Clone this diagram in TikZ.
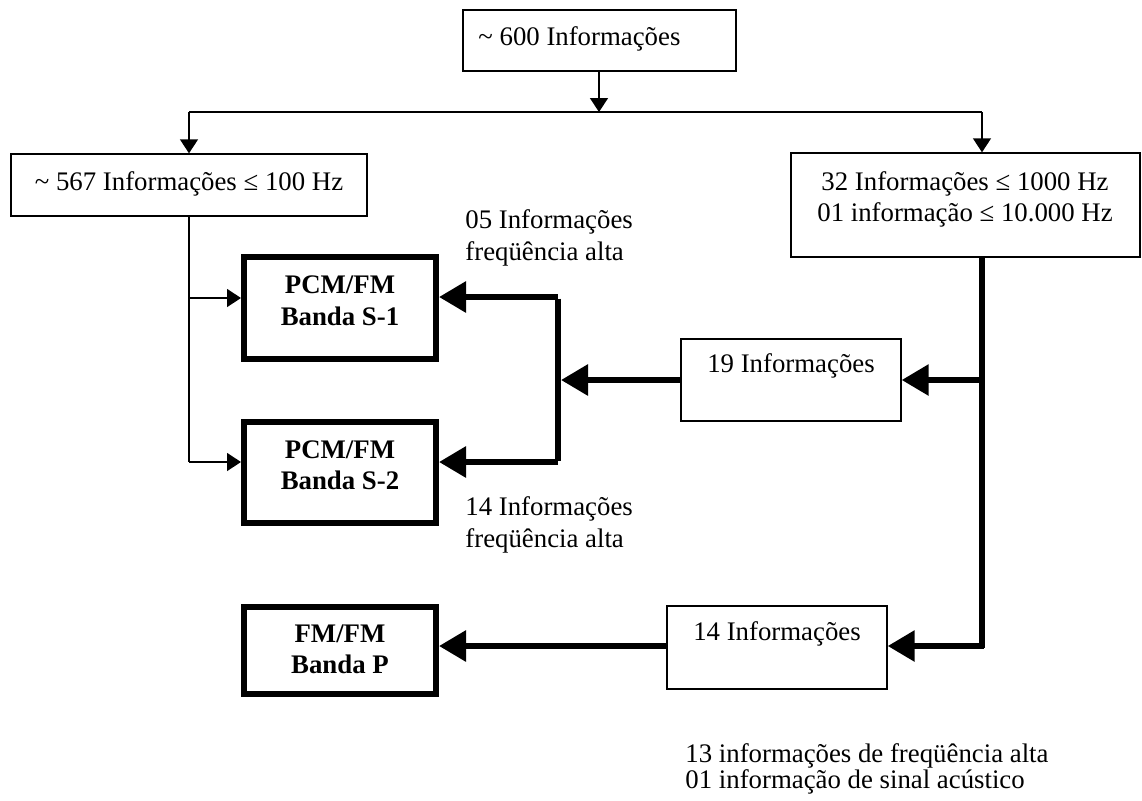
\documentclass[tikz,border=0pt]{standalone}
\usepackage{fontspec}
\setmainfont{Liberation Serif}
\usetikzlibrary{arrows.meta,fit}
\begin{document}
\begin{tikzpicture}[x=0.5pt,y=-0.5pt,
  thinbox/.style={draw,line width=0.7pt,inner sep=0pt},
  thickbox/.style={draw,line width=3pt,inner sep=0pt},
  txt/.style={font=\fontsize{13.4}{16}\selectfont,inner sep=0pt,anchor=base},
  txtl/.style={txt,anchor=base west},
  btxt/.style={font=\fontsize{13.4}{16}\selectfont\bfseries,inner sep=0pt,anchor=base},
  thinarr/.style={line width=0.7pt,-{Triangle[length=7pt,width=9pt]}},
  thinline/.style={line width=0.7pt},
  thickarr/.style={line width=3pt,line join=miter,-{Triangle[length=13.5pt,width=15pt]}},
  thickline/.style={line width=3pt,line join=miter},
  ]
\useasboundingbox (0,0) rectangle (1142,800);
% boxes
\node[thinbox,fit={(463,10) (736,71)}] (top) {};
\node[thinbox,fit={(11,154) (367,216)}] (lbox) {};
\node[thinbox,fit={(791,153) (1140,257)}] (rbox) {};
\node[thickbox,fit={(244,257) (436,359)}] (s1) {};
\node[thickbox,fit={(244,422) (436,523)}] (s2) {};
\node[thickbox,fit={(244,607) (436,694)}] (fm) {};
\node[thinbox,fit={(681,339) (901,421)}] (b19) {};
\node[thinbox,fit={(667,606) (887,689)}] (b14) {};
% texts
\node[txtl] (ttop) at (478,45) {\char`~\ 600 Informações};
\node[txt] (tl) at (189,190) {\char`~\ 567 Informações ≤ 100 Hz};
\node[txt] (tr1) at (965,190) {32 Informações ≤ 1000 Hz};
\node[txt] (tr2) at (965,221) {01 informação ≤ 10.000 Hz};
\node[btxt] (ts1a) at (340,293) {PCM/FM};
\node[btxt] (ts1b) at (340,325) {Banda S-1};
\node[btxt] (ts2a) at (340,458) {PCM/FM};
\node[btxt] (ts2b) at (340,489) {Banda S-2};
\node[btxt] (tfma) at (340,642) {FM/FM};
\node[btxt] (tfmb) at (340,673) {Banda P};
\node[txt] (t19) at (791,372) {19 Informações};
\node[txt] (t14) at (777,640) {14 Informações};
\node[txtl] (l05a) at (465,228) {05 Informações};
\node[txtl] (l05b) at (465,260) {freqüência alta};
\node[txtl] (l14a) at (465,515) {14 Informações};
\node[txtl] (l14b) at (465,547) {freqüência alta};
\node[txtl] (lb1) at (685,762) {13 informações de freqüência alta};
\node[txtl] (lb2) at (685,788) {01 informação de sinal acústico};
% junction coordinates
\coordinate (j0) at (599,112);
\coordinate (jL) at (189,112);
\coordinate (jR) at (982,112);
\coordinate (b1) at (189,298);
\coordinate (b2) at (189,462);
\coordinate (k1) at (558,297);
\coordinate (k2) at (558,462);
\coordinate (k3) at (561,380);
\coordinate (v0) at (982,257);
\coordinate (v1) at (982,380);
\coordinate (v2) at (982,646);
\coordinate (h1) at (667,646);
% thin connectors
\draw[thinarr] (j0 |- top.south) -- (j0);
\draw[thinline] (jL) -- (jR);
\draw[thinarr] (jL) -- (lbox.north);
\draw[thinarr] (jR) -- (jR |- rbox.north);
\draw[thinline] (lbox.south) -- (b2);
\draw[thinarr] (b1) -- (b1 -| s1.west);
\draw[thinarr] (b2) -- (b2 -| s2.west);
% thick connectors
\draw[thickarr] (k1) -- (k1 -| s1.east);
\draw[thickarr] (k2) -- (k2 -| s2.east);
\draw[thickline] ([yshift=-0.75pt]k1) -- ([yshift=0.75pt]k2);
\draw[thickarr] (b19.west) -- (k3);
\draw[thickline] (v0) -- ([yshift=-0.75pt]v2);
\draw[thickarr] (v1) -- (b19.east);
\draw[thickarr] ([xshift=0.75pt]v2) -- (v2 -| b14.east);
\draw[thickarr] (h1) -- (h1 -| fm.east);
\end{tikzpicture}
\end{document}
